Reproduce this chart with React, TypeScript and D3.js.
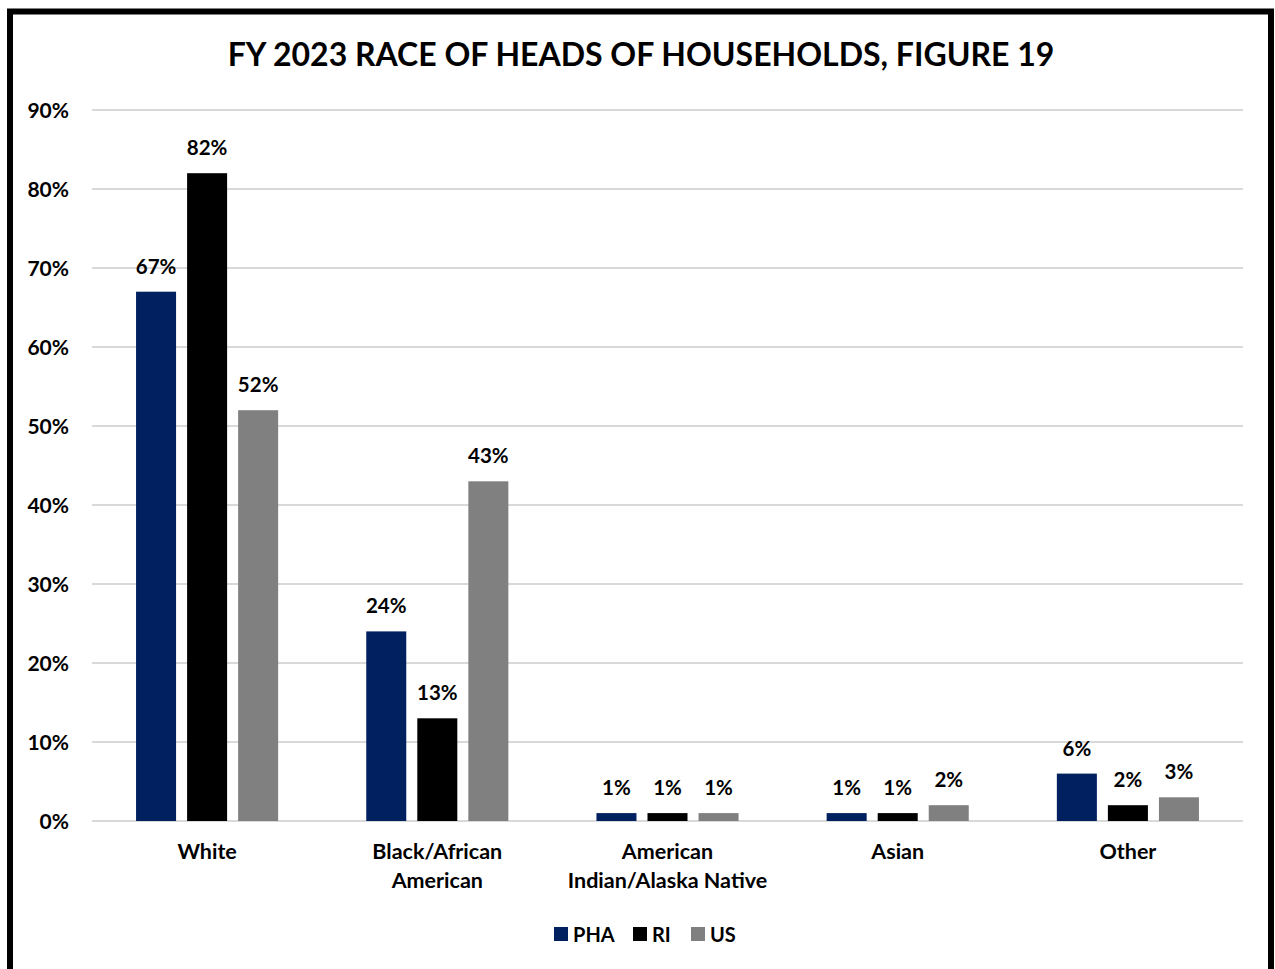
import React from "react";
import * as d3 from "d3";

const categories: string[][] = [["White"], ["Black/African", "American"], ["American", "Indian/Alaska Native"], ["Asian"], ["Other"]];
const seriesNames = ["PHA", "RI", "US"];
const seriesColors = ["#002060", "#000000", "#808080"];
const phaValues = [67, 24, 1, 1, 6];
const riValues = [82, 13, 1, 1, 2];
const usValues = [52, 43, 1, 2, 3];
const yTicks = [0, 10, 20, 30, 40, 50, 60, 70, 80, 90];
const title = "FY 2023 RACE OF HEADS OF HOUSEHOLDS, FIGURE 19";

const W = 1275;
const H = 969;
const FONT = "Lato, 'Open Sans', sans-serif";

export default function App() {
  const series = [phaValues, riValues, usValues];
  const plotLeft = 92, plotRight = 1243, plotTop = 110, plotBottom = 821;
  const x0 = d3.scaleBand<number>().domain(categories.map((_, i) => i)).range([plotLeft, plotRight]).padding(0);
  const x1 = d3.scaleBand<number>().domain([0, 1, 2]).range([0, x0.bandwidth()]).paddingInner(0.216).paddingOuter(0.863);
  const y = d3.scaleLinear().domain([0, 90]).range([plotBottom, plotTop]);

  return (
    <svg width={W} height={H} viewBox={`0 0 ${W} ${H}`} style={{ position: "absolute", left: 0, top: 0, display: "block", background: "#fff" }}>
      <rect x={0} y={0} width={W} height={H} fill="#fff" />
      {/* border */}
      <path d={`M10,${H + 10} L10,11.5 L1271,11.5 L1271,${H + 10}`} fill="none" stroke="#000" strokeWidth={6} />
      <text x={641} y={66} textAnchor="middle" fontFamily={FONT} fontWeight={700} fontSize={32} fill="#000">{title}</text>
      {yTicks.map((t) => (
        <g key={t}>
          <line x1={plotLeft} x2={plotRight} y1={y(t)} y2={y(t)} stroke="#d9d9d9" strokeWidth={2} />
          <text x={69} y={y(t) + 7.5} textAnchor="end" fontFamily={FONT} fontWeight={700} fontSize={21} fill="#000">{t}%</text>
        </g>
      ))}
      {categories.map((cat, ci) => (
        <g key={ci}>
          {series.map((vals, si) => {
            const bx = (x0(ci) as number) + (x1(si) as number);
            const v = vals[ci];
            return (
              <g key={si}>
                <rect x={bx} y={y(v)} width={x1.bandwidth()} height={plotBottom - y(v)} fill={seriesColors[si]} />
                <text x={bx + x1.bandwidth() / 2} y={y(v) - 18} textAnchor="middle" fontFamily={FONT} fontWeight={700} fontSize={20.5} fill="#000">{v}%</text>
              </g>
            );
          })}
          {cat.map((line, li) => (
            <text key={li} x={(x0(ci) as number) + x0.bandwidth() / 2} y={859 + li * 29} textAnchor="middle" fontFamily={FONT} fontWeight={700} fontSize={21.5} fill="#000">{line}</text>
          ))}
        </g>
      ))}
      {/* legend */}
      {seriesNames.map((name, i) => {
        const lx = [554, 633, 691][i];
        return (
          <g key={name}>
            <rect x={lx} y={927} width={14} height={14} fill={seriesColors[i]} />
            <text x={lx + 19} y={941.5} fontFamily={FONT} fontWeight={700} fontSize={20} fill="#000">{name}</text>
          </g>
        );
      })}
    </svg>
  );
}
